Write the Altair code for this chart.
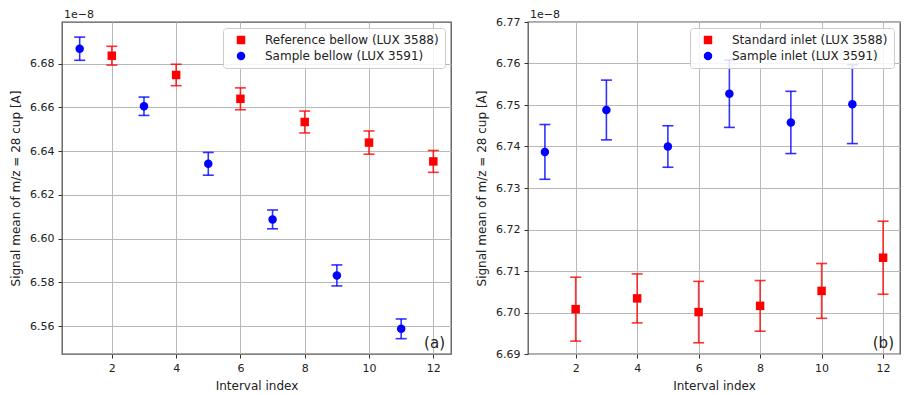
import altair as alt
import pandas as pd

# ---- data (signal values in units of 1e-8 A) ----
idx_even = [2, 4, 6, 8, 10, 12]
idx_odd = [1, 3, 5, 7, 9, 11]

a_names = ["Reference bellow (LUX 3588)", "Sample bellow (LUX 3591)"]
a_ref_val = [6.6836, 6.6748, 6.6639, 6.6533, 6.6439, 6.6353]
a_ref_err = [0.0043, 0.0049, 0.0050, 0.0050, 0.0053, 0.0050]
a_smp_val = [6.6868, 6.6605, 6.6342, 6.6088, 6.5832, 6.5588]
a_smp_err = [0.0053, 0.0042, 0.0052, 0.0043, 0.0048, 0.0045]

b_names = ["Standard inlet (LUX 3588)", "Sample inlet (LUX 3591)"]
b_std_val = [6.7008, 6.7034, 6.7001, 6.7016, 6.7052, 6.7132]
b_std_err = [0.0077, 0.0059, 0.0074, 0.0061, 0.0066, 0.0088]
b_smp_val = [6.7387, 6.7488, 6.7400, 6.7527, 6.7458, 6.7502]
b_smp_err = [0.0066, 0.0072, 0.0050, 0.0081, 0.0075, 0.0095]

x_ticks = [2, 4, 6, 8, 10, 12]
a_y_ticks = [6.56, 6.58, 6.60, 6.62, 6.64, 6.66, 6.68]
b_y_ticks = [6.69, 6.70, 6.71, 6.72, 6.73, 6.74, 6.75, 6.76, 6.77]

RED = "#ff0000"
BLUE = "#0000ff"
H = 332


def frame(names, idx1, v1, e1, idx2, v2, e2):
    rows = []
    for i, v, e in zip(idx1, v1, e1):
        rows.append({"idx": i, "val": v, "lo": v - e, "hi": v + e, "series": names[0], "col": RED})
    for i, v, e in zip(idx2, v2, e2):
        rows.append({"idx": i, "val": v, "lo": v - e, "hi": v + e, "series": names[1], "col": BLUE})
    return pd.DataFrame(rows)


def panel(df, names, ydom, yticks, tag, W):
    xs = alt.X("idx:Q", scale=alt.Scale(domain=[0.45, 12.55], nice=False, zero=False),
               axis=alt.Axis(values=x_ticks, title="Interval index", format="d"))
    base = alt.Chart(df)
    ysc = alt.Scale(domain=ydom, nice=False, zero=False)
    yax = alt.Axis(values=yticks, format=".2f", title="Signal mean of m/z = 28 cup [A]")
    rules = base.mark_rule(strokeWidth=1.6, opacity=0.8).encode(
        x=xs, y=alt.Y("lo:Q", scale=ysc, axis=yax), y2="hi:Q",
        color=alt.Color("col:N", scale=None))
    caps = base.transform_fold(["lo", "hi"], as_=["end", "yv"]).mark_tick(
        orient="horizontal", size=11, thickness=1.6, opacity=0.8).encode(
        x=xs, y=alt.Y("yv:Q", scale=ysc, axis=yax),
        color=alt.Color("col:N", scale=None))
    pts = base.mark_point(filled=True, size=72, opacity=1).encode(
        x=xs, y=alt.Y("val:Q", scale=ysc, axis=yax),
        color=alt.Color("series:N", scale=alt.Scale(domain=names, range=[RED, BLUE]),
                        legend=alt.Legend(title=None)),
        shape=alt.Shape("series:N", scale=alt.Scale(domain=names, range=["square", "circle"]),
                        legend=alt.Legend(title=None)))
    label = alt.Chart(pd.DataFrame({"t": [tag]})).mark_text(
        align="right", baseline="bottom", fontSize=15, font="DejaVu Sans", color="#222").encode(
        x=alt.value(W - 6), y=alt.value(H - 3), text="t:N")
    scale_txt = alt.Chart(pd.DataFrame({"t": ["1e\u22128"]})).mark_text(
        align="left", baseline="alphabetic", fontSize=11, font="DejaVu Sans", color="#222").encode(
        x=alt.value(2), y=alt.value(-4), text="t:N")
    return alt.layer(rules, caps, pts, label, scale_txt).properties(width=W, height=H)


left = panel(frame(a_names, idx_even, a_ref_val, a_ref_err, idx_odd, a_smp_val, a_smp_err),
             a_names, [6.5473, 6.699], a_y_ticks, "(a)", 389)
right = panel(frame(b_names, idx_even, b_std_val, b_std_err, idx_odd, b_smp_val, b_smp_err),
              b_names, [6.69, 6.77], b_y_ticks, "(b)", 372)

chart = alt.hconcat(left, right, spacing=22).resolve_scale(
    color="independent", shape="independent").properties(
    padding={"left": 0, "top": 0, "right": 0, "bottom": 0}).configure_view(
    stroke="#555555", strokeWidth=1.3).configure_axis(
    domain=False, grid=True, gridColor="#b8b8b8", gridWidth=1, tickColor="#333333",
    tickSize=4, labelFont="DejaVu Sans", labelFontSize=11, labelColor="#222222",
    labelPadding=4, titleFont="DejaVu Sans", titleFontSize=12, titleFontWeight="normal",
    titleColor="#222222").configure_axisY(
    minExtent=34, maxExtent=34, titlePadding=6).configure_axisX(
    labelPadding=4, titlePadding=7).configure_legend(
    orient="top-right", offset=6, fillColor="rgba(255,255,255,0.85)", strokeColor="#cccccc",
    cornerRadius=3, padding=6, labelFont="DejaVu Sans", labelFontSize=12, labelColor="#222222",
    labelLimit=400, symbolSize=72, rowPadding=4, labelOffset=18, symbolOffset=6,
    symbolOpacity=1, symbolStrokeWidth=0)

chart.save("out.html", embed_options={"renderer": "svg", "actions": False})
